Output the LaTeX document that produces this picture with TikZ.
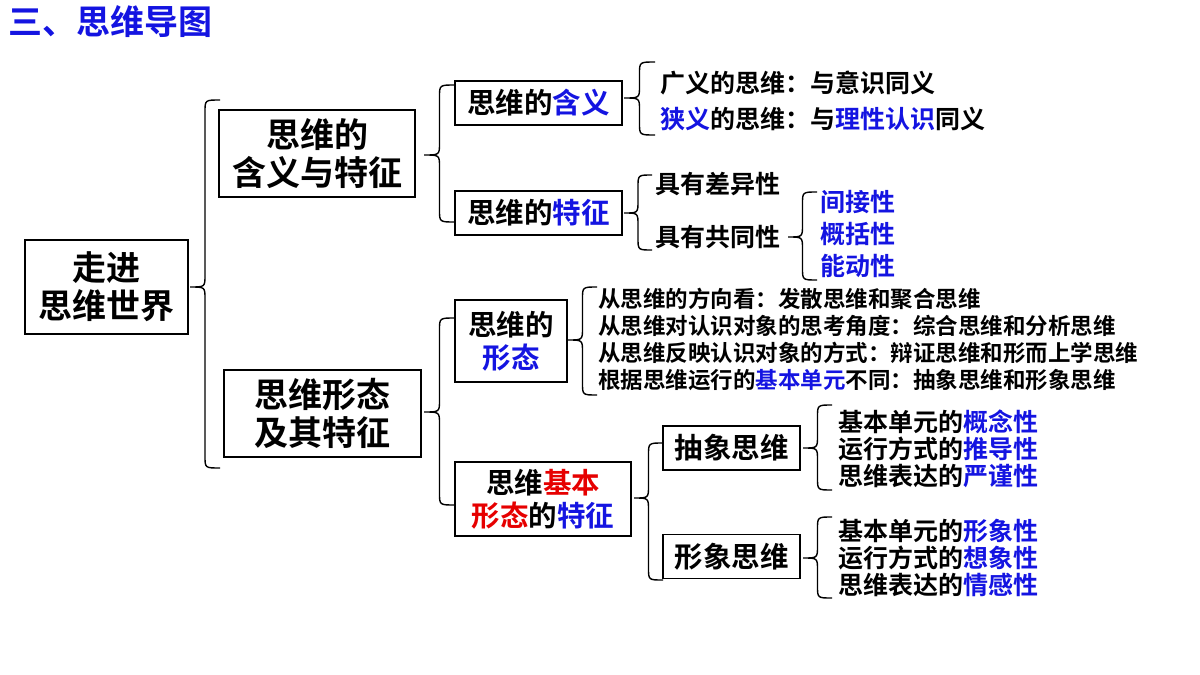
\documentclass[tikz,border=0pt]{standalone}
\usepackage{fontspec}
\setmainfont{Noto Sans CJK SC}[BoldFont={Noto Sans CJK SC Bold}]
\definecolor{bl}{RGB}{20,20,225}
\definecolor{rd}{RGB}{230,0,0}
\newcommand{\brc}[5]{% xtip xend top mid bot
 \pgfmathsetmacro\xm{(#1+#2)/2}\pgfmathsetmacro\rr{min(12,(#5-#3)/6)}
 \draw[line width=1.4pt] (#2,#3) .. controls (\xm,#3) .. (\xm,#3+\rr) -- (\xm,#4-\rr) .. controls (\xm,#4) .. (#1,#4) .. controls (\xm,#4) .. (\xm,#4+\rr) -- (\xm,#5-\rr) .. controls (\xm,#5) .. (#2,#5);}
\newcommand{\B}[1]{\textcolor{bl}{#1}}
\newcommand{\R}[1]{\textcolor{rd}{#1}}
\begin{document}
\begin{tikzpicture}[x=1pt,y=-1pt,font=\bfseries,
 bx/.style={draw,line width=1.2pt,align=center,inner sep=0pt},
 big/.style={font=\fontsize{34}{38}\selectfont\bfseries},
 mid/.style={font=\fontsize{28.5}{33}\selectfont\bfseries},
 sm/.style={font=\fontsize{25}{29}\selectfont\bfseries,anchor=west,inner sep=0pt},
 xs/.style={font=\fontsize{22.5}{26}\selectfont\bfseries,anchor=west,inner sep=0pt}]
\useasboundingbox (0,0) rectangle (1200,675);
\node[anchor=west,text=bl,font=\fontsize{34}{38}\selectfont\bfseries,inner sep=0pt] (t) at (8,22) {三、思维导图};
\node[bx,big,minimum width=163pt,minimum height=94pt] (a) at (106.5,287) {走进\\思维世界};
\node[bx,big,minimum width=196pt,minimum height=87pt] (b1) at (317,153.5) {思维的\\含义与特征};
\node[bx,big,minimum width=197pt,minimum height=87pt] (b2) at (322.5,413.5) {思维形态\\及其特征};
\node[bx,mid,minimum width=167pt,minimum height=44pt] (c1) at (538.5,103) {思维的\B{含义}};
\node[bx,mid,minimum width=167pt,minimum height=44pt] (c2) at (538.5,213) {思维的\B{特征}};
\node[bx,mid,minimum width=112pt,minimum height=82pt] (c3) at (511,341) {思维的\\\B{形态}};
\node[bx,mid,minimum width=176pt,minimum height=74pt] (c4) at (543,499) {思维\R{基本}\\\R{形态}的\B{特征}};
\node[bx,mid,minimum width=137pt,minimum height=44pt] (d1) at (731.5,448) {抽象思维};
\node[bx,mid,minimum width=137pt,minimum height=44pt] (d2) at (731.5,556.5) {形象思维};
\brc{190}{220}{100}{287}{468}
\brc{424}{455}{85}{155}{222}
\brc{424}{455}{318}{412}{505}
\brc{624}{655}{62}{98}{135}
\brc{624}{652}{175}{213}{250}
\brc{788}{817}{192}{237}{280}
\brc{568}{597}{287}{340}{395}
\brc{634}{663}{443}{498}{580}
\brc{803}{832}{405}{448}{490}
\brc{803}{832}{517}{558}{598}
\node[sm] (e1) at (660,83) {广义的思维：与意识同义};
\node[sm] (e2) at (660,119) {\B{狭义}的思维：与\B{理性认识}同义};
\node[sm] (e3) at (655,184) {具有差异性};
\node[sm] (e4) at (655,237) {具有共同性};
\node[sm,text=bl] (f1) at (820,202) {间接性};
\node[sm,text=bl] (f2) at (820,234) {概括性};
\node[sm,text=bl] (f3) at (820,266) {能动性};
\node[xs] (g1) at (598,299) {从思维的方向看：发散思维和聚合思维};
\node[xs] (g2) at (598,326) {从思维对认识对象的思考角度：综合思维和分析思维};
\node[xs] (g3) at (598,353) {从思维反映认识对象的方式：辩证思维和形而上学思维};
\node[xs] (g4) at (598,380) {根据思维运行的\B{基本单元}不同：抽象思维和形象思维};
\node[sm] (h1) at (838,422) {基本单元的\B{概念性}};
\node[sm] (h2) at (838,449) {运行方式的\B{推导性}};
\node[sm] (h3) at (838,476) {思维表达的\B{严谨性}};
\node[sm] (i1) at (838,531) {基本单元的\B{形象性}};
\node[sm] (i2) at (838,558) {运行方式的\B{想象性}};
\node[sm] (i3) at (838,585) {思维表达的\B{情感性}};
\end{tikzpicture}
\end{document}
